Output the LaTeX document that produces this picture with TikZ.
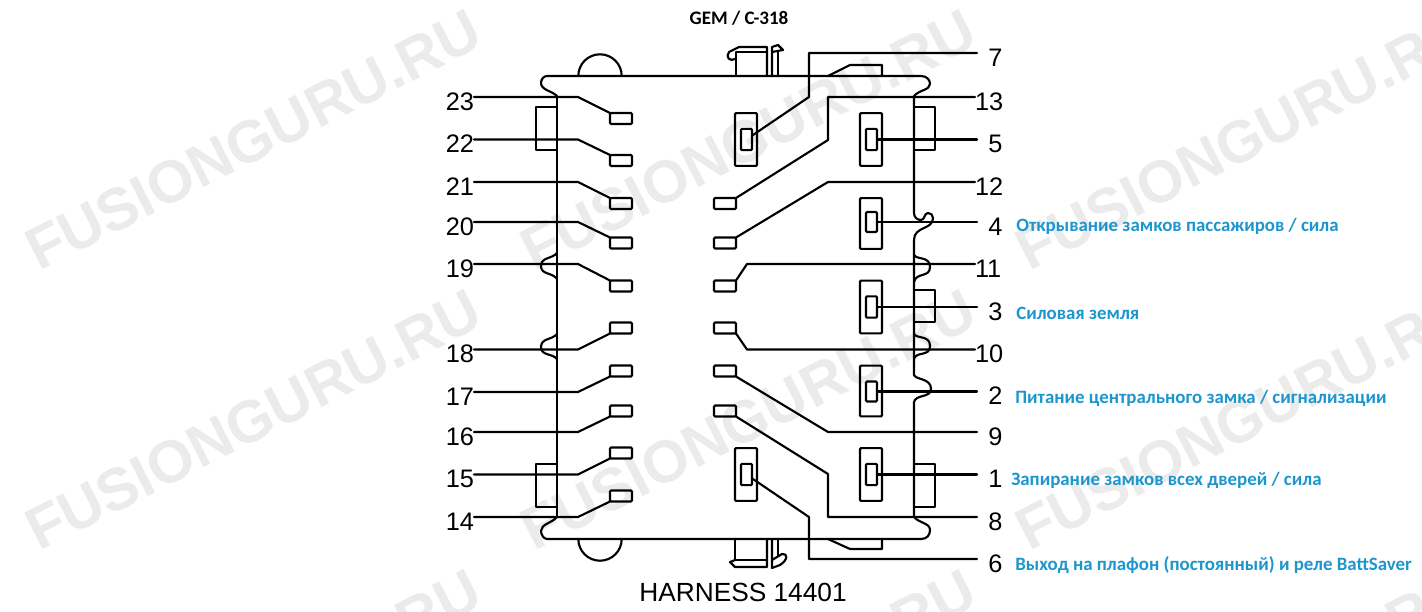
\documentclass[tikz,border=0pt]{standalone}
\usepackage{fontspec}
\setmainfont{Liberation Sans}
\newfontfamily\calfont{Carlito}
\usepackage{tikz}
\usetikzlibrary{positioning}
\definecolor{wmark}{gray}{0.92}
\definecolor{capblue}{RGB}{29,150,205}
\tikzset{
  wire/.style={line width=1.6pt,line join=round,line cap=round},
  pinbox/.style={draw,line width=1.6pt,rounded corners=0.8pt,inner sep=0pt,outer sep=0pt,minimum width=16.5pt,minimum height=8.25pt},
  bladeout/.style={draw,line width=1.6pt,rounded corners=0.8pt,inner sep=0pt,outer sep=0pt,minimum width=16.5pt,minimum height=39.5pt},
  bladein/.style={draw,line width=1.6pt,rounded corners=0.8pt,inner sep=0pt,outer sep=0pt,minimum width=8.25pt,minimum height=16pt},
  numl/.style={inner sep=0pt,outer sep=0pt,anchor=east,font=\fontsize{19}{19}\selectfont,text height=19.5pt,text depth=0pt},
  numr/.style={inner sep=0pt,outer sep=0pt,anchor=west,font=\fontsize{19}{19}\selectfont,text height=20pt,text depth=0pt,text width=19pt,align=right},
  caption/.style={inner sep=0pt,anchor=west,text=capblue,font=\calfont\bfseries\fontsize{14.15}{16}\selectfont},
  wmk/.style={inner sep=0pt,rotate=27,text=wmark,font=\bfseries\fontsize{44.5}{45}\selectfont}
}
\begin{document}
\begin{tikzpicture}[x=0.75pt,y=-0.75pt]
\useasboundingbox (0,0) rectangle (1422,611);
\clip (0,0) rectangle (1422,611);
\node[wmk] (wa) at (253,140) {FUSIONGURU.RU};
\node[wmk] (wb) at (748,140) {FUSIONGURU.RU};
\node[wmk] (wc) at (1243,140) {FUSIONGURU.RU};
\node[wmk] (wd) at (253,420) {FUSIONGURU.RU};
\node[wmk] (we) at (748,420) {FUSIONGURU.RU};
\node[wmk] (wf) at (1243,420) {FUSIONGURU.RU};
\node[wmk] (wg) at (253,700) {FUSIONGURU.RU};
\node[wmk] (wh) at (748,700) {FUSIONGURU.RU};
\node[wmk] (wi) at (1243,700) {FUSIONGURU.RU};
\node[font=\calfont\bfseries\fontsize{14.3}{15}\selectfont] (title) at (739,18) {GEM / C-318};
\node[font=\fontsize{19.7}{20}\selectfont] (harness) at (743,592) {HARNESS 14401};
\draw[wire] (557,96) -- (557,517);
\draw[wire] (557,96) .. controls (552,91) and (541,90) .. (541,83) .. controls (541,79) and (544,76) .. (547,76) -- (921,76) .. controls (927,76) and (930,80) .. (930,84) .. controls (930,90) and (919,90) .. (914,96) -- (914,213) .. controls (914,218) and (918,220) .. (921,220) .. controls (925,220) and (924,213) .. (928,213) .. controls (931,213) and (933,215) .. (933,218) .. controls (933,230) and (914,226) .. (914,240) -- (914,375) .. controls (916,380) and (931,378) .. (931,389) .. controls (931,398) and (916,394) .. (914,402) -- (914,517) .. controls (919,523) and (930,523) .. (930,530) .. controls (930,535) and (927,539) .. (921,539) -- (547,539) .. controls (544,539) and (541,535) .. (541,531) .. controls (541,524) and (552,523) .. (557,517);
\draw[wire] (557,253) .. controls (552,259) and (541,257) .. (541,266) .. controls (541,275) and (552,272) .. (557,279);
\draw[wire] (557,334) .. controls (552,340) and (541,338) .. (541,347) .. controls (541,356) and (552,353) .. (557,359);
\draw[wire] (914,255) .. controls (917,260) and (930,256) .. (930,267) .. controls (930,278) and (916,272) .. (914,282);
\draw[wire] (914,334) .. controls (917,339) and (930,335) .. (930,346) .. controls (930,357) and (916,351) .. (914,359);
\draw[wire] (557,107) -- (536,107) -- (536,150) -- (557,150);
\draw[wire] (557,464) -- (536,464) -- (536,507) -- (557,507);
\draw[wire] (914,107) -- (935,107) -- (935,150) -- (914,150);
\draw[wire] (914,290) -- (935,290) -- (935,322) -- (914,322);
\draw[wire] (914,464) -- (935,464) -- (935,507) -- (914,507);
\draw[wire] (578.3,76) arc (180:360:21.7);
\draw[wire] (578.3,539) arc (180:0:21.7);
\draw[wire] (828,76) -- (850,65) -- (882,65) -- (882,76);
\draw[wire] (828,539) -- (850,549) -- (882,549) -- (882,539);
\draw[wire] (736,76) -- (736,52) -- (767,52);
\draw[wire] (767,76) -- (767,47) -- (739,47) -- (729,52) .. controls (725,57) and (730,62) .. (735,59);
\draw[wire] (772,76) -- (772,47) -- (778,45) -- (783,50) -- (772,52);
\draw[wire] (778,76) -- (778,52);
\draw[wire] (735,539) -- (735,560) -- (767,560);
\draw[wire] (767,539) -- (767,567) -- (735,567) -- (730,562) -- (735,560);
\draw[wire] (772,539) -- (772,568) -- (780,565) .. controls (788,560) and (788,553) .. (782,554) -- (772,560);
\draw[wire] (778,539) -- (778,556);
\node[pinbox] (p23) at (621,118.5) {};
\node[pinbox] (p22) at (621,160.5) {};
\node[pinbox] (p21) at (621,203.5) {};
\node[pinbox] (p20) at (621,243) {};
\node[pinbox] (p19) at (621,286) {};
\node[pinbox] (p18) at (621,328) {};
\node[pinbox] (p17) at (621,371) {};
\node[pinbox] (p16) at (621,411) {};
\node[pinbox] (p15) at (621,453) {};
\node[pinbox] (p14) at (621,496) {};
\node[pinbox] (p13) at (725,203.5) {};
\node[pinbox] (p12) at (725,243) {};
\node[pinbox] (p11) at (725,286) {};
\node[pinbox] (p10) at (725,328) {};
\node[pinbox] (p9) at (725,371) {};
\node[pinbox] (p8) at (725,411) {};
\node[bladeout] (b7) at (746,139.5) {};
\node[bladein] (c7) at (746.5,139.5) {};
\node[bladeout] (b6) at (746,474.5) {};
\node[bladein] (c6) at (746.5,474.5) {};
\node[bladeout] (b5) at (871,139.5) {};
\node[bladein] (c5) at (871.5,139.5) {};
\node[bladeout,minimum height=38pt] (b4) at (871,223.5) {};
\node[bladein,minimum height=15pt] (c4) at (871.5,222) {};
\node[bladeout] (b3) at (871,307) {};
\node[bladein] (c3) at (871.5,307) {};
\node[bladeout,minimum height=38pt] (b2) at (871,391) {};
\node[bladein,minimum height=15pt] (c2) at (871.5,391.5) {};
\node[bladeout] (b1) at (871,474.5) {};
\node[bladein] (c1) at (871.5,474.5) {};
\node[numl] (n23) at (474,97) {23};
\node[numl] (n22) at (474,139.5) {22};
\node[numl] (n21) at (474,182) {21};
\node[numl] (n20) at (474,222) {20};
\node[numl] (n19) at (474,264) {19};
\node[numl] (n18) at (474,349.5) {18};
\node[numl] (n17) at (474,392) {17};
\node[numl] (n16) at (474,432) {16};
\node[numl] (n15) at (474,474.5) {15};
\node[numl] (n14) at (474,517) {14};
\node[numr] (n7) at (977,53) {7};
\node[numr] (n13) at (975,97) {13};
\node[numr] (n5) at (977,139.5) {5};
\node[numr] (n12) at (975,182) {12};
\node[numr] (n4) at (977,222) {4};
\node[numr] (n11) at (975,264) {11};
\node[numr] (n3) at (977,307) {3};
\node[numr] (n10) at (975,349.5) {10};
\node[numr] (n2) at (977,391.5) {2};
\node[numr] (n9) at (977,432) {9};
\node[numr] (n1) at (977,474.5) {1};
\node[numr] (n8) at (977,517) {8};
\node[numr] (n6) at (977,559) {6};
\draw[wire] (n23.east) -- ++(104,0) -- (p23.north west);
\draw[wire] (n22.east) -- ++(104,0) -- (p22.north west);
\draw[wire] (n21.east) -- ++(104,0) -- (p21.north west);
\draw[wire] (n20.east) -- ++(104,0) -- (p20.north west);
\draw[wire] (n19.east) -- ++(104,0) -- (p19.north west);
\draw[wire] (n18.east) -- ++(104,0) -- (p18.south west);
\draw[wire] (n17.east) -- ++(104,0) -- (p17.south west);
\draw[wire] (n16.east) -- ++(104,0) -- (p16.south west);
\draw[wire] (n15.east) -- ++(104,0) -- (p15.south west);
\draw[wire] (n14.east) -- ++(104,0) -- (p14.south west);
\draw[wire] (n7.west) -- ++(-168,0) -- ++(0,44) -- (c7.35);
\draw[wire] (n13.west) -- ++(-147,0) -- ++(0,43) -- (p13.north east);
\draw[wire] (n5.west) -- (c5.east);
\draw[wire] (n12.west) -- ++(-147,0) -- (p12.north east);
\draw[wire] (n4.west) -- (c4.east);
\draw[wire] (n11.west) -- ++(-228,0) -- (p11.north east);
\draw[wire] (n3.west) -- (c3.east);
\draw[wire] (n10.west) -- ++(-228,0) -- (p10.south east);
\draw[wire] (n2.west) -- (c2.east);
\draw[wire] (n9.west) -- ++(-149,0) -- (p9.south east);
\draw[wire] (n1.west) -- (c1.east);
\draw[wire] (n8.west) -- ++(-149,0) -- ++(0,-43) -- (p8.south east);
\draw[wire] (n6.west) -- ++(-168,0) -- ++(0,-42) -- (c6.-35);
\node[caption] (cap4) at (1016,226) {Открывание замков пассажиров / сила};
\node[caption] (cap3) at (1016,313) {Силовая земля};
\node[caption] (cap2) at (1015,398) {Питание центрального замка / сигнализации};
\node[caption] (cap1) at (1011,480) {Запирание замков всех дверей / сила};
\node[caption] (cap6) at (1015,565) {Выход на плафон (постоянный) и реле BattSaver};
\end{tikzpicture}
\end{document}
